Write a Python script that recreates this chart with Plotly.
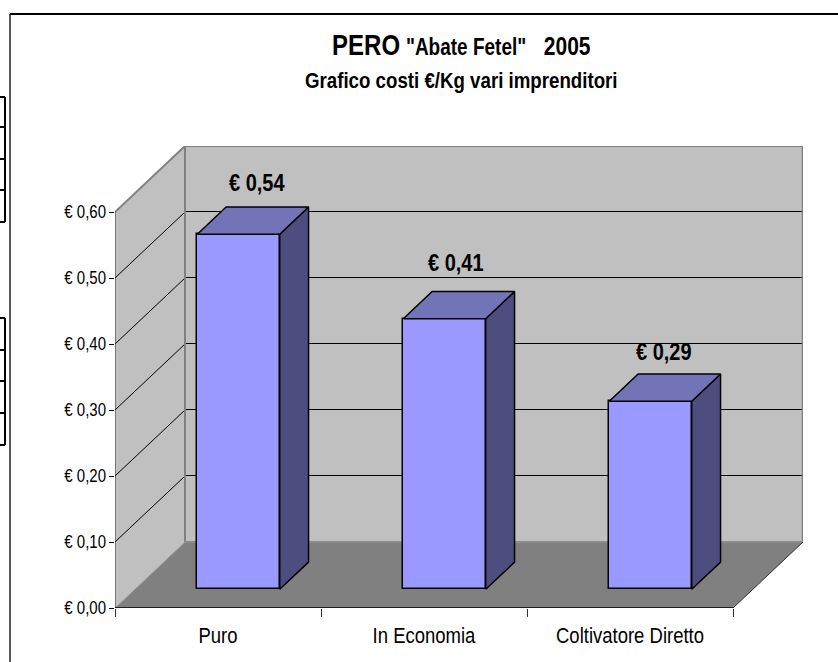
import plotly.graph_objects as go

categories = ["Puro", "In Economia", "Coltivatore Diretto"]
costs = [0.538, 0.41, 0.285]
cost_labels = ["€ 0,54", "€ 0,41", "€ 0,29"]
y_ticks = [0, 0.1, 0.2, 0.3, 0.4, 0.5, 0.6]
y_tick_labels = ["€ 0,00", "€ 0,10", "€ 0,20", "€ 0,30", "€ 0,40", "€ 0,50", "€ 0,60"]

W, H = 838, 662
ML, MR, MT, MB = 115, 35, 146, 54
XMAX = (W - ML - MR) / 206
YMAX = 0.7
DX, DY = 70 / 206, 0.1          # oblique projection of full depth
BAR_W = 0.4
Z0, Z1 = 0.283, 0.695           # bar depth range
BAR_SHIFT = 0.7 / 206
FONT = "Liberation Sans"
NUDGE = 0.5 / 660               # half a pixel so that thin lines stay crisp
LABEL_SHIFT = [(-0.151, 0.0077), (-0.186, 0.0138), (-0.176, 0.0042)]

# the reference's lettering is condensed: stretch the real text vertically
CONDENSE = """
document.body.style.margin = '0';
document.querySelectorAll('.xtick text, .ytick text, .annotation-text').forEach(function (t) {
  var b = t.getBBox(), cx = b.x + b.width / 2, cy = b.y + b.height / 2;
  var old = t.getAttribute('transform') || '';
  t.setAttribute('transform', old + ' translate(' + cx + ',' + cy + ') scale(1,1.22) translate(' + (-cx) + ',' + (-cy) + ')');
});
"""


def pj(x, y, z=0.0):
    return x + z * DX, y + z * DY


def px(x):
    return (x - ML) / (W - ML - MR)


def py(y):
    return 1 - (y - MT) / (H - MT - MB)


def poly(points, fill, line=None, width=0, layer="below"):
    path = "M" + " L".join(f"{a},{b}" for a, b in points) + " Z"
    return dict(type="path", path=path, xref="x", yref="y", fillcolor=fill, layer=layer,
                line=dict(color=line or fill, width=width))


def seg(p, q, color="black", width=1):
    return dict(type="line", xref="x", yref="y", x0=p[0], y0=p[1], x1=q[0], y1=q[1],
                layer="below", line=dict(color=color, width=width))


def pxline(x0, y0, x1, y1, color="black", width=2):
    return dict(type="line", xref="paper", yref="paper", x0=px(x0), x1=px(x1), y0=py(y0), y1=py(y1),
                line=dict(color=color, width=width))


top = y_ticks[-1]
n = len(categories)
shapes = [
    poly([pj(0, 0), pj(0, top), pj(0, top, 1), pj(0, 0, 1)], "#c0c0c0"),
    poly([pj(0, 0, 1), pj(0, top, 1), pj(n, top, 1), pj(n, 0, 1)], "#c0c0c0"),
    poly([pj(0, 0), pj(n, 0), pj(n, 0, 1), pj(0, 0, 1)], "#808080"),
]
for t in y_ticks[1:-1]:
    shapes += [seg(pj(0, t), pj(0, t, 1)), seg(pj(0, t + NUDGE, 1), pj(n, t + NUDGE, 1))]
grey = "#808080"
shapes += [
    seg(pj(0, top), pj(0, top, 1), grey, 2),
    seg(pj(0, top, 1), pj(n, top, 1), grey, 2),
    seg(pj(n, top, 1), pj(n, 0, 1), grey, 2.5),
    seg(pj(0, 0, 1), pj(0, top, 1), grey, 2),
    seg(pj(0, 0, 1), pj(n, 0, 1), "#8c8c8c", 2),
    seg(pj(0, 0), pj(0, 0, 1), "#a0a0a0", 1),
    seg(pj(n, 0), pj(n, 0, 1), "#303030", 1),
    seg(pj(0, 0), pj(0, top), "#303030", 1),
    seg(pj(0, 0), pj(n, 0), "black", 1.5),
]

# page frame and the fragments of spreadsheet cells at the left edge
shapes += [pxline(10, 14, 10, H, "#202020", 1.5), pxline(10, 14, W, 14, "black", 2)]
for ys in ([97, 127, 159, 190, 222], [318, 350, 381, 413, 445]):
    shapes.append(pxline(5, ys[0], 5, ys[-1]))
    for y in ys:
        shapes.append(pxline(0, y, 5, y))

fig = go.Figure()
fig.add_trace(go.Bar(
    x=[i + 0.5 + BAR_SHIFT + Z0 * DX for i in range(n)],
    y=costs,
    base=[Z0 * DY] * n,
    width=BAR_W,
    marker=dict(color="#9999ff", line=dict(color="black", width=1.5)),
    hoverinfo="skip",
))
for i, v in enumerate(costs):
    l, r = i + 0.5 + BAR_SHIFT - BAR_W / 2, i + 0.5 + BAR_SHIFT + BAR_W / 2
    side = [pj(r, 0, Z0), pj(r, v, Z0), pj(r, v, Z1), pj(r, 0, Z1), pj(r, 0, Z0)]
    cap = [pj(l, v, Z0), pj(r, v, Z0), pj(r, v, Z1), pj(l, v, Z1), pj(l, v, Z0)]
    for pts, col in ((side, "#4d4d80"), (cap, "#7373b8")):
        fig.add_trace(go.Scatter(
            x=[p[0] for p in pts], y=[p[1] for p in pts], mode="lines", fill="toself",
            fillcolor=col, line=dict(color="black", width=1.5), hoverinfo="skip",
        ))

annotations = []
for i, (v, txt) in enumerate(zip(costs, cost_labels)):
    sx, sy = LABEL_SHIFT[i]
    x, y = pj(i + 0.5, v, 1)
    annotations.append(dict(x=x + sx, y=y + sy, xref="x", yref="y", text=f"<b>{txt}</b>", showarrow=False,
                            font=dict(family=FONT, size=20, color="black")))
annotations += [
    dict(x=px(461), y=py(44), xref="paper", yref="paper", xanchor="center", yanchor="middle", showarrow=False,
         text='<b><span style="font-size:24px">PERO</span> '
              '<span style="font-size:19px">"Abate Fetel"</span>\u00a0\u00a0\u00a0'
              '<span style="font-size:21px">2005</span></b>',
         font=dict(family=FONT, size=21, color="black")),
    dict(x=px(461), y=py(80), xref="paper", yref="paper", xanchor="center", yanchor="middle", showarrow=False,
         text="<b>Grafico costi €/Kg vari imprenditori</b>",
         font=dict(family=FONT, size=18.7, color="black")),
]

fig.update_layout(
    width=W, height=H, showlegend=False, bargap=0,
    paper_bgcolor="white", plot_bgcolor="white",
    margin=dict(l=ML, r=MR, t=MT, b=MB, pad=0),
    shapes=shapes, annotations=annotations,
    font=dict(family=FONT, color="black"),
    xaxis=dict(range=[0, XMAX], showgrid=False, zeroline=False, showline=False,
               tickmode="array", tickvals=[i + 0.5 for i in range(n)], ticktext=categories,
               ticks="", tickfont=dict(family=FONT, size=18.5), ticklabelstandoff=14,
               minor=dict(tickmode="array", tickvals=list(range(n + 1)), ticks="outside",
                          ticklen=8, tickcolor="#303030", tickwidth=1, showgrid=False)),
    yaxis=dict(range=[0, YMAX], showgrid=False, zeroline=False, showline=False,
               tickmode="array", tickvals=y_ticks, ticktext=y_tick_labels,
               ticks="outside", ticklen=5, tickcolor="black", tickwidth=1,
               tickfont=dict(family=FONT, size=15)),
)
fig.write_html("out.html", config=dict(displayModeBar=False), post_script=CONDENSE)
